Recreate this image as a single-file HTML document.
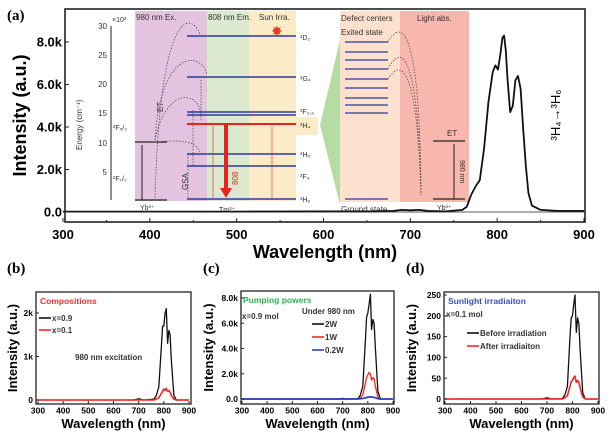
<!DOCTYPE html>
<html><head><meta charset="utf-8"><style>
html,body{margin:0;padding:0;background:#fff;}
svg{display:block;font-family:"Liberation Sans",sans-serif;}
</style></head><body>
<svg id="fig" width="616" height="442" viewBox="0 0 616 442" xmlns="http://www.w3.org/2000/svg">
<g id="inset">
  <rect x="135" y="11" width="72" height="190" fill="#e3c3e0"/>
  <rect x="207" y="11" width="42" height="190" fill="#dbe9cf"/>
  <rect x="249" y="11" width="47" height="190" fill="#fbebc6"/>
  <rect x="296" y="117" width="22" height="18" fill="#fbebc6"/>
  <polygon points="320,125 340,40 340,205" fill="#b6dca3"/>
  <rect x="340" y="11" width="60" height="191" fill="#fde0cd"/>
  <rect x="400" y="11" width="69" height="191" fill="#f7b7ae"/>
  <text x="136" y="20" font-size="8" fill="#333">980 nm Ex.</text>
  <text x="208" y="20" font-size="8" fill="#333">808 nm Em.</text>
  <text x="259" y="20" font-size="8" fill="#333">Sun Irra.</text>
  <text x="271" y="36" font-size="14" fill="#e83a2a">✸</text>
  <text x="341" y="21" font-size="8" fill="#333">Defect centers</text>
  <text x="417" y="21" font-size="8" fill="#333">Light abs.</text>
  <text x="341" y="35" font-size="8" fill="#333">Exited state</text>
  <line x1="111" y1="26" x2="111" y2="200" stroke="#222" stroke-width="1"/>
  <g font-size="8" fill="#333" text-anchor="end">
    <text x="107" y="29">30</text><text x="107" y="58">25</text><text x="107" y="87">20</text>
    <text x="107" y="116">15</text><text x="107" y="146">10</text><text x="107" y="175">5</text>
  </g>
  <text x="112" y="22" font-size="7" fill="#333">×10³</text>
  <text transform="translate(82,150) rotate(-90)" font-size="8" fill="#333">Energy (cm⁻¹)</text>
  <text x="113" y="130" font-size="7" fill="#333">²F₅/₂</text>
  <text x="113" y="181" font-size="7" fill="#333">²F₇/₂</text>
  <text transform="translate(163,112) rotate(-90)" font-size="8" fill="#333">ET</text>
  <text transform="translate(188,190) rotate(-90)" font-size="8" fill="#333">GSA</text>
  <line x1="135" y1="142" x2="167" y2="142" stroke="#222" stroke-width="1.3"/>
  <line x1="135" y1="200" x2="167" y2="200" stroke="#222" stroke-width="1.3"/>
  <line x1="142" y1="200" x2="142" y2="145" stroke="#222" stroke-width="1"/>
  <text x="140" y="210" font-size="7" fill="#333">Yb³⁺</text>
  <text x="219" y="212" font-size="7" fill="#333">Tm³⁺</text>
  <g stroke="#2b3a9c" stroke-width="1.6">
    <line x1="187" y1="36" x2="296" y2="36"/><line x1="187" y1="77" x2="296" y2="77"/>
    <line x1="187" y1="112" x2="296" y2="112"/><line x1="187" y1="115" x2="296" y2="115"/>
    <line x1="187" y1="154" x2="296" y2="154"/><line x1="187" y1="166" x2="296" y2="166"/>
    <line x1="187" y1="199" x2="296" y2="199"/>
  </g>
  <line x1="187" y1="124" x2="296" y2="124" stroke="#e8231d" stroke-width="2"/>
  <line x1="226" y1="124" x2="226" y2="190" stroke="#e8231d" stroke-width="4"/>
  <polygon points="220,188 232,188 226,198" fill="#e8231d"/>
  <text transform="translate(238,185) rotate(-90)" font-size="8" fill="#e8231d">808</text>
  <line x1="213" y1="126" x2="213" y2="198" stroke="#e8231d" stroke-width="0.6"/>
  <line x1="272" y1="126" x2="272" y2="198" stroke="#e8231d" stroke-width="0.6"/>
  <g font-size="7" fill="#333">
    <text x="300" y="40">¹D₂</text><text x="300" y="81">¹G₄</text><text x="300" y="114">³F₂,₃</text>
    <text x="300" y="128">³H₄</text><text x="300" y="157">³H₅</text><text x="300" y="179">³F₄</text><text x="300" y="202">³H₆</text>
  </g>
  <g fill="none" stroke="#444" stroke-width="0.7" stroke-dasharray="1.5,1.5">
    <path d="M155,198 C160,10 190,10 200,34"/><path d="M155,140 C160,50 200,50 207,74"/>
    <path d="M155,140 C165,90 195,90 200,110"/><path d="M155,142 C180,140 195,140 200,152"/>
    <line x1="201" y1="80" x2="201" y2="120"/><line x1="193" y1="110" x2="193" y2="165"/>
    <line x1="188" y1="154" x2="188" y2="199"/>
    <path d="M388,42 C400,20 420,20 421,195"/><path d="M388,69 C400,45 418,45 421,195"/><path d="M388,79 C400,60 417,60 421,195"/>
  </g>
  <g stroke="#2b3a9c" stroke-width="1.3">
    <line x1="345" y1="42" x2="388" y2="42"/><line x1="345" y1="52" x2="388" y2="52"/>
    <line x1="345" y1="60" x2="388" y2="60"/><line x1="345" y1="69" x2="388" y2="69"/>
    <line x1="345" y1="79" x2="388" y2="79"/><line x1="345" y1="88" x2="388" y2="88"/>
    <line x1="345" y1="98" x2="388" y2="98"/><line x1="345" y1="105" x2="388" y2="105"/>
    <line x1="345" y1="113" x2="388" y2="113"/><line x1="345" y1="199" x2="388" y2="199"/>
  </g>
  <text x="341" y="212" font-size="8" fill="#333">Ground state</text>
  <line x1="433" y1="141" x2="465" y2="141" stroke="#222" stroke-width="1.2"/>
  <line x1="433" y1="199" x2="465" y2="199" stroke="#222" stroke-width="1.2"/>
  <line x1="454" y1="199" x2="454" y2="144" stroke="#222" stroke-width="1"/>
  <text x="447" y="136" font-size="8" fill="#333">ET</text>
  <text transform="translate(460,160) rotate(90)" font-size="7" fill="#333">980 nm</text>
  <text x="437" y="210" font-size="7" fill="#333">Yb³⁺</text>
</g>
<g id="panels"></g>
<text x="7" y="20" font-family="Liberation Serif,serif" font-weight="bold" font-size="15">(a)</text>
<text x="7" y="273" font-family="Liberation Serif,serif" font-weight="bold" font-size="15">(b)</text>
<text x="203" y="273" font-family="Liberation Serif,serif" font-weight="bold" font-size="15">(c)</text>
<text x="406" y="273" font-family="Liberation Serif,serif" font-weight="bold" font-size="15">(d)</text>
<text transform="translate(560,115) rotate(-90)" font-size="13" text-anchor="middle">³H₄→³H₆</text>
</svg>
<script>
// Panel (a) data
const aWl = [300,400,500,600,650,680,690,700,710,720,740,760,765,770,775,780,785,790,795,798,801,804,806,808,810,812,815,818,821,824,827,830,833,836,840,850,870,900];
const aInt = [0.02,0.02,0.02,0.03,0.03,0.05,0.1,0.08,0.1,0.05,0.03,0.1,0.25,0.8,1.2,1.5,3.0,5.2,6.6,6.9,6.7,7.5,8.2,8.3,7.6,6.2,4.7,5.0,6.2,6.4,5.8,3.9,2.2,0.9,0.3,0.1,0.05,0.05];
const aYTicks = [0,2,4,6,8];
const aYLabels = ["0.0","2.0k","4.0k","6.0k","8.0k"];
const xTicks = [300,400,500,600,700,800,900];
// Bottom panels shared wavelengths
const bWl = [300,680,700,720,760,770,780,790,795,800,805,810,815,820,825,830,840,850,900];
const bBlack = [0,0,0.03,0,0.02,0.1,0.3,1.2,1.7,1.7,2.0,2.1,1.3,1.6,1.5,0.9,0.1,0,0];
const bRed = [0,0,0,0,0,0.02,0.05,0.15,0.2,0.25,0.22,0.27,0.2,0.22,0.18,0.1,0.02,0,0];
const cHigh = [0,0,0.05,0,0.02,0.3,1.0,4.5,6.5,6.8,7.5,8.3,5.5,6.3,6.0,4.0,0.6,0,0];
const cMid = [0,0,0,0,0,0.1,0.3,1.2,1.7,1.9,2.1,2.0,1.5,1.7,1.6,1.0,0.15,0,0];
const cLow = [0,0,0,0,0,0.02,0.05,0.08,0.12,0.15,0.17,0.17,0.15,0.14,0.12,0.1,0.02,0,0];
const dBefore = [0,0,3,0,1,10,30,150,195,200,230,250,160,195,180,120,15,0,0];
const dAfter = [0,0,0,0,0,3,8,30,42,45,52,55,40,45,40,28,5,0,0];

const NS="http://www.w3.org/2000/svg";
const root=document.getElementById('panels');
function mk(tag,attrs,parent){const e=document.createElementNS(NS,tag);for(const k in attrs)e.setAttribute(k,attrs[k]);(parent||root).appendChild(e);return e;}
function txt(s,attrs,parent){const e=mk('text',attrs,parent);e.textContent=s;return e;}

function panel(o){
  const g=mk('g',{});
  
  
  const sx=v=>o.x0+(v-300)/600*(o.x1-o.x0);
  const sy=v=>o.y0+(v-o.ymin)/(o.ymax-o.ymin)*(o.y1-o.y0);
  o.series.forEach(s=>{
    let d='';s.y.forEach((v,i)=>{d+=(i?'L':'M')+sx(o.wl[i]).toFixed(1)+','+sy(v).toFixed(1);});
    const p=mk('path',{d:d,fill:'none',stroke:s.color,'stroke-width':s.w||1.3,'stroke-linejoin':'round'},g);
    
    
  });
  const box=mk('rect',{x:o.bx0,y:o.by0,width:o.bx1-o.bx0,height:o.by1-o.by0,fill:'none',stroke:'#222','stroke-width':o.bw},g);
  
  
  xTicks.forEach(v=>{
    mk('line',{x1:sx(v),x2:sx(v),y1:o.by1,y2:o.by1-o.tl,stroke:'#222','stroke-width':1},g);
    const t=txt(String(v),{x:sx(v),y:o.by1+o.fs+o.xlg,'font-size':o.fs,'font-weight':'bold','text-anchor':'middle'},g);
    
    
    if(o.minor&&v<900)mk('line',{x1:sx(v+50),x2:sx(v+50),y1:o.by1,y2:o.by1-o.tl/2,stroke:'#222','stroke-width':1},g);
  });
  o.yt.forEach((v,i)=>{
    mk('line',{x1:o.bx0,x2:o.bx0+o.tl,y1:sy(v),y2:sy(v),stroke:'#222','stroke-width':1},g);
    const t=txt(o.yl[i],{x:o.bx0-3,y:sy(v)+o.fs*0.36,'font-size':o.fs,'font-weight':'bold','text-anchor':'end'},g);
    
    
  });
  const xt=txt('Wavelength (nm)',{x:(o.bx0+o.bx1)/2,y:o.xty,'font-size':o.tfs,'font-weight':'bold','text-anchor':'middle'},g);
  
  
  const yt=txt('Intensity (a.u.)',{transform:`translate(${o.ytx},${(o.by0+o.by1)/2}) rotate(-90)`,'font-size':o.tfs,'font-weight':'bold','text-anchor':'middle'},g);
  
  
  return g;
}

panel({name:'panel-a-spectrum',wl:aWl,series:[{y:aInt,color:'#111',w:1.8,name:'emission-spectrum'}],
  x0:63,x1:584,ymin:0,ymax:8,y0:212,y1:42,bx0:65,bx1:585,by0:9,by1:222,bw:1.6,tl:4,minor:true,xlg:4,
  yt:aYTicks,yl:aYLabels,fs:13,tfs:18,xty:258,ytx:26});
mk('line',{x1:65,x2:585,y1:212,y2:212,stroke:'#222','stroke-width':0.8});

const gb=panel({name:'panel-b-compositions',wl:bWl,series:[{y:bBlack,color:'#111',name:'series-x0.9'},{y:bRed,color:'#f22',w:1.6,name:'series-x0.1'}],
  x0:38,x1:189,ymin:0,ymax:2,y0:400,y1:313,bx0:36,bx1:191,by0:292,by1:404,bw:1.3,tl:3,xlg:1,
  yt:[0,1,2],yl:["0","1k","2k"],fs:8.5,tfs:13,xty:428,ytx:17});
const gc=panel({name:'panel-c-pumping-powers',wl:bWl,series:[{y:cHigh,color:'#111',name:'series-2w'},{y:cMid,color:'#f22',name:'series-1w'},{y:cLow,color:'#2a45c0',w:1.8,name:'series-0.2w'}],
  x0:242,x1:393,ymin:0,ymax:8,y0:399,y1:298,bx0:241,bx1:394,by0:291,by1:404,bw:1.3,tl:3,xlg:1,
  yt:[0,2,4,6,8],yl:["0.0","2.0k","4.0k","6.0k","8.0k"],fs:8.5,tfs:13,xty:428,ytx:213});
const gd=panel({name:'panel-d-sunlight',wl:bWl,series:[{y:dBefore,color:'#111',name:'series-before'},{y:dAfter,color:'#f22',w:1.6,name:'series-after'}],
  x0:445,x1:598,ymin:0,ymax:250,y0:399,y1:295,bx0:444,bx1:599,by0:292,by1:404,bw:1.3,tl:3,xlg:1,
  yt:[0,50,100,150,200,250],yl:["0","50","100","150","200","250"],fs:8.5,tfs:13,xty:428,ytx:416});

function legend(g,items){items.forEach(it=>{
  if(it.line){const l=mk('line',{x1:it.x,x2:it.x+12,y1:it.y-3,y2:it.y-3,stroke:it.line,'stroke-width':1.6},g);
    
    }
  const t=txt(it.t,{x:it.line?it.x+13:it.x,y:it.y,'font-size':it.fs||8,'font-weight':'bold',fill:it.c||'#333'},g);
  
  
});}
legend(gb,[{t:'Compositions',x:40,y:304,c:'#f03030',fs:8.5},{t:'x=0.9',x:39,y:321,line:'#111'},{t:'x=0.1',x:39,y:333,line:'#f22'},{t:'980 nm excitation',x:75,y:360}]);
legend(gc,[{t:'Pumping powers',x:243,y:303,c:'#2db34a',fs:8.5},{t:'x=0.9 mol',x:242,y:319},{t:'Under 980 nm',x:302,y:314},{t:'2W',x:312,y:327,line:'#111'},{t:'1W',x:312,y:340,line:'#f22'},{t:'0.2W',x:312,y:353,line:'#2a45c0'}]);
legend(gd,[{t:'Sunlight irradiaiton',x:448,y:304,c:'#3b4fc0',fs:8.5},{t:'x=0.1 mol',x:446,y:317},{t:'Before irradiation',x:467,y:336,line:'#111'},{t:'After irradiaiton',x:467,y:349,line:'#f22'}]);
</script>
</body></html>
